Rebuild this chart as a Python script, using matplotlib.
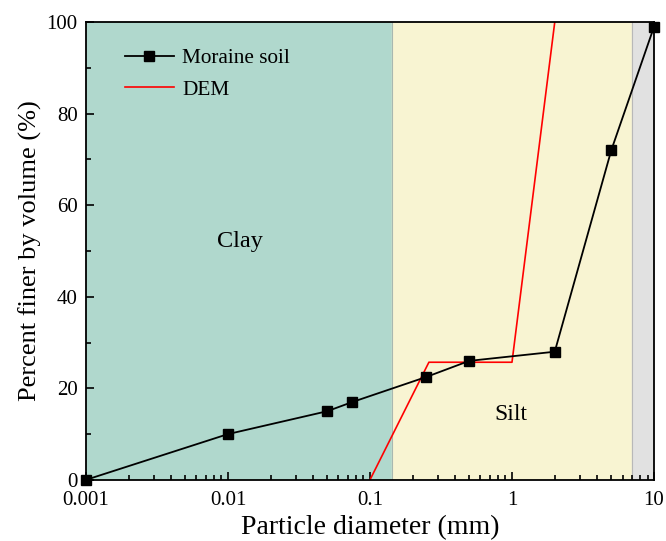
import numpy as np
import matplotlib.pyplot as plt
from matplotlib.ticker import FixedLocator, NullFormatter

plt.rcParams['font.family'] = ['Liberation Serif', 'DejaVu Serif']

# measured gradation
moraine_d = [0.001, 0.01, 0.05, 0.075, 0.25, 0.5, 2, 5, 10]
moraine_p = [0, 10, 15, 17, 22.5, 26, 28, 72, 99]

dem_d = [0.1, 0.26, 1.0, 2.0]
dem_p = [0, 25.7, 25.7, 100]

# background zones
clay_silt = 0.143
silt_sand = 7.0

fig = plt.figure(figsize=(6.66, 5.41), dpi=100)
ax = fig.add_axes([0.129, 0.113, 0.853, 0.846])

ax.axvspan(0.001, clay_silt, color='#b0d8cd', zorder=0)
ax.axvspan(clay_silt, silt_sand, color='#f8f4d2', zorder=0)
ax.axvspan(silt_sand, 10, color='#e1e1e1', zorder=0)
ax.axvline(clay_silt, color='#a8b8b0', lw=0.8, zorder=0.5)
ax.axvline(silt_sand, color='#b8b8b8', lw=0.8, zorder=0.5)

ax.plot(moraine_d, moraine_p, '-s', color='black', lw=1.3, ms=7,
        label='Moraine soil', zorder=3, clip_on=False)
ax.plot(dem_d, dem_p, '-', color='red', lw=1.2, label='DEM', zorder=2)

ax.set_xscale('log')
ax.set_xlim(0.001, 10)
ax.set_ylim(0, 100)
ax.set_xticks([0.001, 0.01, 0.1, 1, 10])
ax.set_xticklabels(['0.001', '0.01', '0.1', '1', '10'])
ax.xaxis.set_minor_locator(FixedLocator(
    [m * 10.0**e for e in range(-3, 1) for m in range(2, 10)]))
ax.xaxis.set_minor_formatter(NullFormatter())
ax.set_yticks([0, 20, 40, 60, 80, 100])
ax.set_yticks([10, 30, 50, 70, 90], minor=True)

ax.tick_params(which='both', direction='in', top=False, right=False,
               labelsize=15, width=1.2)
ax.tick_params(which='major', length=6)
ax.tick_params(which='minor', length=3.5)
ax.tick_params(axis='x', which='major', pad=8)
ax.tick_params(axis='y', which='major', pad=6)
for s in ax.spines.values():
    s.set_linewidth(1.3)

ax.set_xlabel('Particle diameter (mm)', fontsize=20, labelpad=4)
ax.set_ylabel('Percent finer by volume (%)', fontsize=19, labelpad=3)

ax.text(0.0122, 52, 'Clay', fontsize=17.5, ha='center', va='center')
ax.text(0.985, 14.2, 'Silt', fontsize=17, ha='center', va='center')

ax.legend(loc='upper left', frameon=False, fontsize=15.3,
          bbox_to_anchor=(0.035, 0.985), handlelength=2.3,
          labelspacing=0.55, handletextpad=0.4, markerscale=0.95)

fig.savefig('out.png', dpi=100)
